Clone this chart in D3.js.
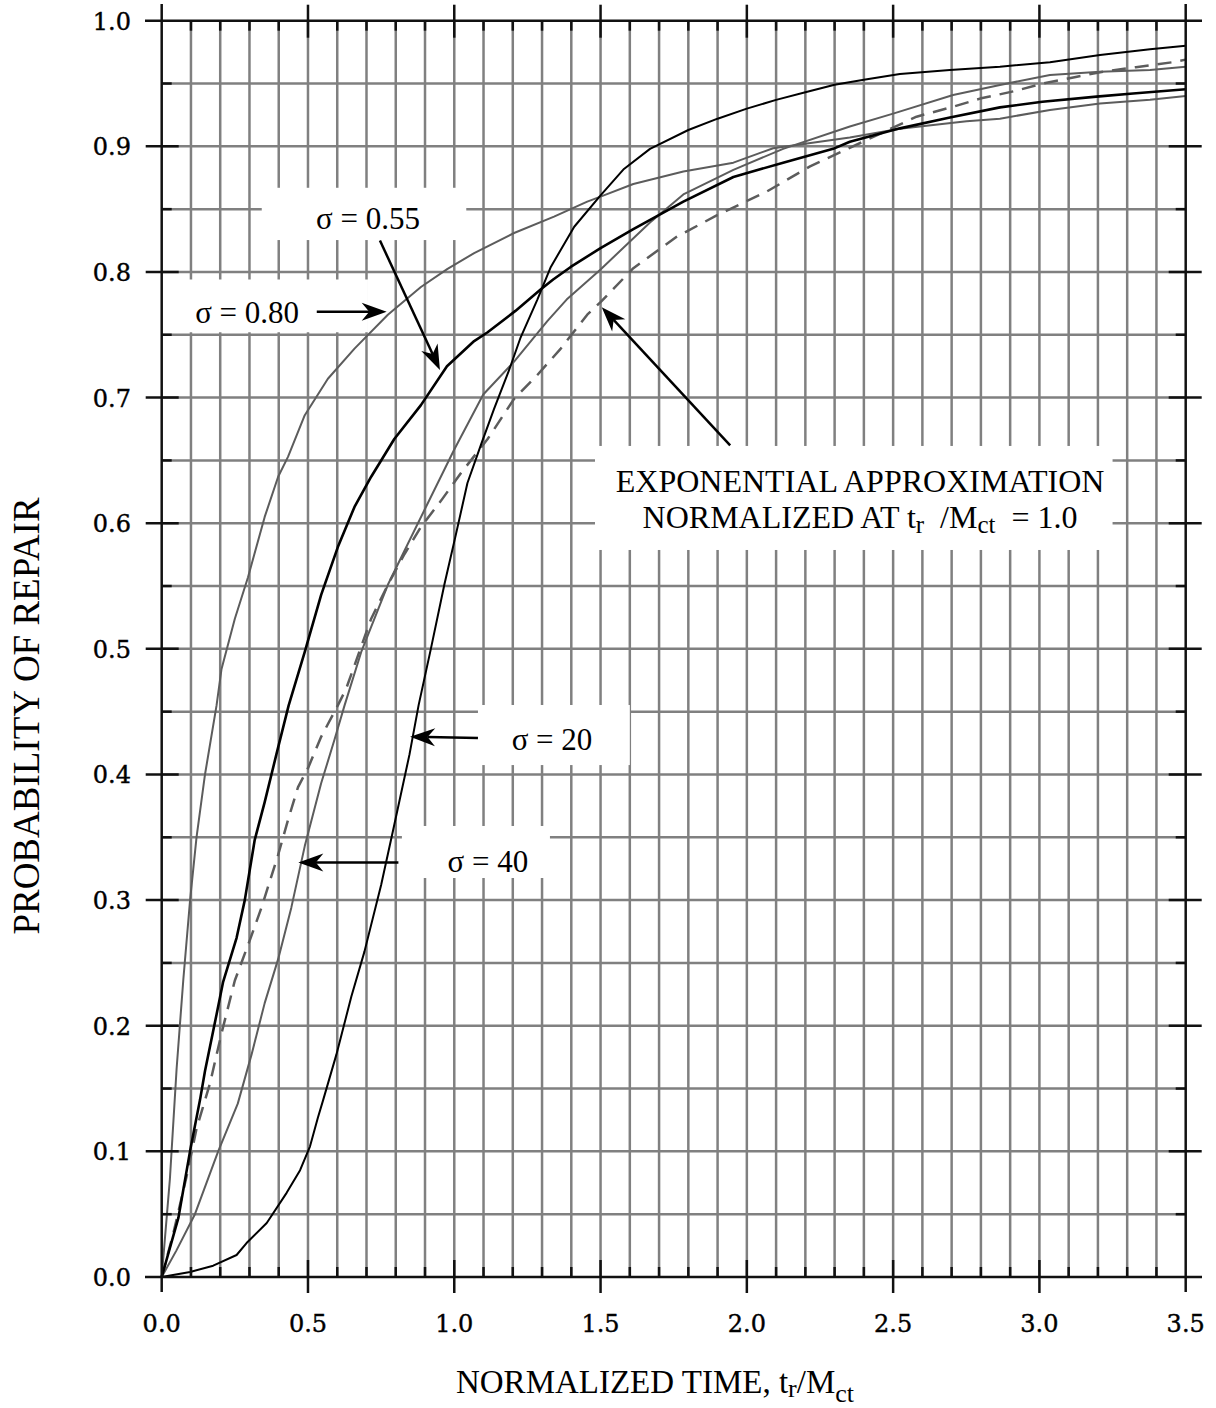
<!DOCTYPE html>
<html>
<head>
<meta charset="utf-8">
<script src="https://cdn.jsdelivr.net/npm/d3@7"></script>
<style>
  body { margin: 0; background: #fff; }
  svg { display: block; }
</style>
</head>
<body>
<svg id="chart" width="1216" height="1408"></svg>
<script>
// curves: [normalized time, probability of repair]
var sigma080 = [[0,0],[0.028,0.078],[0.051,0.166],[0.074,0.237],[0.097,0.30],[0.119,0.35],[0.148,0.40],
    [0.1875,0.455],[0.2045,0.484],[0.25,0.524],[0.295,0.557],[0.352,0.605],[0.398,0.637],[0.432,0.653],
    [0.489,0.686],[0.568,0.715],[0.659,0.739],[0.773,0.766],[0.886,0.788],[0.977,0.8025],[1.068,0.815],
    [1.2045,0.831],[1.341,0.844],[1.4545,0.856],[1.5,0.860],[1.612,0.870],[1.783,0.880],[1.954,0.887],
    [2.09,0.8985],[2.352,0.907],[2.523,0.914],[2.751,0.920],[2.865,0.922],[3.036,0.929],[3.207,0.934],
    [3.378,0.937],[3.5,0.940]];
var sigma055 = [[0,0],[0.057,0.047],[0.099,0.103],[0.131,0.141],[0.148,0.164],[0.1875,0.209],[0.21,0.235],
    [0.256,0.27],[0.284,0.30],[0.318,0.348],[0.352,0.378],[0.392,0.416],[0.434,0.455],[0.489,0.4975],
    [0.545,0.543],[0.602,0.581],[0.659,0.613],[0.716,0.637],[0.795,0.667],[0.886,0.694],[0.975,0.725],
    [1.068,0.745],[1.114,0.752],[1.209,0.769],[1.295,0.786],[1.338,0.794],[1.398,0.804],[1.5,0.819],
    [1.612,0.834],[1.783,0.856],[1.954,0.8756],[2.124,0.887],[2.295,0.898],[2.352,0.9037],[2.523,0.9143],
    [2.694,0.923],[2.865,0.931],[3.01,0.9355],[3.195,0.9396],[3.32,0.942],[3.5,0.9454]];
var sigma040 = [[0,0],[0.05,0.021],[0.1136,0.05],[0.193,0.10],[0.26,0.138],[0.307,0.177],[0.352,0.218],
    [0.398,0.253],[0.443,0.294],[0.489,0.343],[0.545,0.393],[0.591,0.428],[0.625,0.455],[0.682,0.4975],
    [0.773,0.551],[0.841,0.5835],[0.909,0.6157],[1.0,0.6587],[1.099,0.7025],[1.2045,0.7286],[1.318,0.7608],
    [1.384,0.778],[1.5,0.802],[1.669,0.8394],[1.783,0.8617],[1.954,0.8813],[2.124,0.898],[2.352,0.9158],
    [2.5,0.926],[2.705,0.9408],[2.865,0.9488],[3.036,0.9568],[3.207,0.9594],[3.378,0.9607],[3.5,0.9634]];
var sigma020 = [[0,0],[0.097,0.004],[0.176,0.009],[0.256,0.0175],[0.29,0.027],[0.359,0.043],[0.427,0.067],
    [0.473,0.085],[0.507,0.104],[0.534,0.127],[0.552,0.141],[0.597,0.177],[0.648,0.223],[0.693,0.259],
    [0.75,0.312],[0.795,0.36],[0.847,0.416],[0.878,0.455],[0.92,0.50],[0.966,0.551],[1.006,0.5915],
    [1.045,0.632],[1.092,0.663],[1.136,0.691],[1.186,0.721],[1.227,0.748],[1.284,0.778],[1.33,0.804],
    [1.41,0.836],[1.5,0.861],[1.58,0.882],[1.669,0.898],[1.8,0.913],[1.9,0.922],[2.0,0.930],[2.1,0.937],
    [2.2,0.943],[2.3,0.949],[2.4,0.953],[2.523,0.9576],[2.694,0.9607],[2.865,0.9634],[3.036,0.967],
    [3.207,0.9727],[3.378,0.9772],[3.5,0.980]];
var exponential = [[0,0],[0.04,0.035],[0.085,0.08],[0.119,0.118],[0.165,0.154],[0.2045,0.194],[0.25,0.236],
    [0.301,0.268],[0.341,0.294],[0.398,0.336],[0.432,0.364],[0.466,0.39],[0.5,0.405],[0.545,0.43],
    [0.602,0.455],[0.63,0.468],[0.716,0.524],[0.773,0.551],[0.83,0.5755],[0.886,0.597],[0.955,0.618],
    [1.023,0.64],[1.114,0.667],[1.2045,0.699],[1.284,0.718],[1.364,0.739],[1.4545,0.766],[1.5,0.776],
    [1.612,0.803],[1.76,0.828],[1.897,0.845],[2.068,0.864],[2.216,0.884],[2.4,0.904],[2.58,0.9236],
    [2.705,0.9315],[2.797,0.938],[2.916,0.944],[3.013,0.950],[3.12,0.955],[3.217,0.9594],[3.33,0.963],
    [3.457,0.967],[3.5,0.969]];

var xTickLabels = ["0.0","0.5","1.0","1.5","2.0","2.5","3.0","3.5"];
var yTickLabels = ["0.0","0.1","0.2","0.3","0.4","0.5","0.6","0.7","0.8","0.9","1.0"];

var svg = d3.select("#chart");
var x = d3.scaleLinear().domain([0, 3.5]).range([161.7, 1185.7]);
var y = d3.scaleLinear().domain([0, 1]).range([1277, 20.7]);

var GRID = "#808080", CURVE_GRAY = "#5c5c5c";

svg.append("rect").attr("width", 1216).attr("height", 1408).style("fill", "white");

// grid
var grid = svg.append("g");
d3.range(1, 35).forEach(function(i) {
    grid.append("line")
        .attr("x1", x(i / 10)).attr("x2", x(i / 10))
        .attr("y1", y(1)).attr("y2", y(0))
        .style("stroke", GRID).style("stroke-width", 2.5);
});
d3.range(1, 20).forEach(function(i) {
    grid.append("line")
        .attr("x1", x(0)).attr("x2", x(3.5))
        .attr("y1", y(i / 20)).attr("y2", y(i / 20))
        .style("stroke", GRID).style("stroke-width", 2.5);
});

// white boxes behind the labels (data units)
var boxes = [
    [0.342, 1.041, 0.867, 0.8254],
    [0.028, 0.705, 0.794, 0.752],
    [1.481, 3.250, 0.6615, 0.5787],
    [1.081, 1.600, 0.4553, 0.4075],
    [0.821, 1.327, 0.359, 0.3176]
];
boxes.forEach(function(b) {
    svg.append("rect")
        .attr("x", x(b[0])).attr("y", y(b[2]))
        .attr("width", x(b[1]) - x(b[0])).attr("height", y(b[3]) - y(b[2]))
        .style("fill", "white");
});

// curves
var line = d3.line().x(function(d) { return x(d[0]); }).y(function(d) { return y(d[1]); });
function plotCurve(data, color, width, dash) {
    var p = svg.append("path").datum(data)
        .attr("d", line)
        .style("fill", "none")
        .style("stroke", color)
        .style("stroke-width", width)
        .style("stroke-linejoin", "round");
    if (dash) p.style("stroke-dasharray", dash);
}
plotCurve(exponential, CURVE_GRAY, 2.5, "14,9");
plotCurve(sigma080, CURVE_GRAY, 2);
plotCurve(sigma040, CURVE_GRAY, 2);
plotCurve(sigma020, "#000", 2);
plotCurve(sigma055, "#000", 2.6);

// frame and ticks
var axes = svg.append("g").style("stroke", "#111").style("stroke-width", 2.5);
[y(0), y(1)].forEach(function(yy) {
    axes.append("line").attr("x1", 145).attr("x2", 1202).attr("y1", yy).attr("y2", yy);
});
[x(0), x(3.5)].forEach(function(xx) {
    axes.append("line").attr("x1", xx).attr("x2", xx).attr("y1", 4).attr("y2", 1292);
});
d3.range(1, 35).forEach(function(i) {
    var xx = x(i / 10), major = i % 5 == 0;
    axes.append("line").attr("x1", xx).attr("x2", xx)
        .attr("y1", y(0) + (major ? 16 : 0)).attr("y2", y(0) - (major ? 17 : 10));
    axes.append("line").attr("x1", xx).attr("x2", xx)
        .attr("y1", y(1) - (major ? 16 : 0)).attr("y2", y(1) + (major ? 17 : 10));
});
d3.range(1, 20).forEach(function(i) {
    var yy = y(i / 20), major = i % 2 == 0;
    axes.append("line").attr("y1", yy).attr("y2", yy)
        .attr("x1", x(0) - (major ? 16 : 0)).attr("x2", x(0) + (major ? 17 : 10));
    axes.append("line").attr("y1", yy).attr("y2", yy)
        .attr("x1", x(3.5) + (major ? 16 : 0)).attr("x2", x(3.5) - (major ? 17 : 10));
});

// tick labels
xTickLabels.forEach(function(t) {
    svg.append("text").attr("x", x(+t)).attr("y", 1332)
        .attr("text-anchor", "middle")
        .style("font-family", "DejaVu Serif").style("font-size", "24px")
        .style("stroke", "#000").style("stroke-width", 0.4)
        .text(t);
});
yTickLabels.forEach(function(t) {
    svg.append("text").attr("x", 131).attr("y", y(+t) + 9)
        .attr("text-anchor", "end")
        .style("font-family", "DejaVu Serif").style("font-size", "24px")
        .style("stroke", "#000").style("stroke-width", 0.4)
        .text(t);
});

// axis titles
var serif = "Liberation Serif";
var xt = svg.append("text").attr("x", 655).attr("y", 1393).attr("text-anchor", "middle")
    .style("font-family", serif).style("font-size", "33px");
xt.append("tspan").text("NORMALIZED TIME, t");
xt.append("tspan").attr("dy", 4).style("font-size", "26px").text("r");
xt.append("tspan").attr("dy", -4).text("/M");
xt.append("tspan").attr("dy", 9).style("font-size", "26px").text("ct");

svg.append("text")
    .attr("transform", "translate(39,716) rotate(-90)")
    .attr("text-anchor", "middle")
    .style("font-family", serif).style("font-size", "37px")
    .text("PROBABILITY OF REPAIR");

// annotations
function label(tx, ty, str, size) {
    return svg.append("text").attr("x", x(tx)).attr("y", y(ty))
        .attr("text-anchor", "middle")
        .style("font-family", serif).style("font-size", size || "31px")
        .text(str);
}
label(0.705, 0.834, "\u03c3 = 0.55");
label(0.292, 0.759, "\u03c3 = 0.80");
label(1.334, 0.4195, "\u03c3 = 20");
label(1.115, 0.322, "\u03c3 = 40");
label(2.387, 0.6249, "EXPONENTIAL APPROXIMATION", "32px");
var l2 = label(2.387, 0.5962, "", "32px");
l2.append("tspan").text("NORMALIZED AT t");
l2.append("tspan").attr("dy", 5).style("font-size", "25px").text("r");
l2.append("tspan").attr("dy", -5).text("\u2002/M");
l2.append("tspan").attr("dy", 5).style("font-size", "25px").text("ct");
l2.append("tspan").attr("dy", -5).text("\u2002= 1.0");

function arrow(x1, y1, x2, y2) {
    var sx = x(x1), sy = y(y1), ex = x(x2), ey = y(y2);
    var a = Math.atan2(ey - sy, ex - sx), len = 25, hw = 9;
    var bx = ex - len * Math.cos(a), by = ey - len * Math.sin(a);
    var nx = -Math.sin(a), ny = Math.cos(a);
    var mx = ex - 0.7 * len * Math.cos(a), my = ey - 0.7 * len * Math.sin(a);
    svg.append("line").attr("x1", sx).attr("y1", sy).attr("x2", mx).attr("y2", my)
        .style("stroke", "#000").style("stroke-width", 2.5);
    svg.append("path")
        .attr("d", "M" + ex + "," + ey +
            "L" + (bx + nx * hw) + "," + (by + ny * hw) +
            "L" + mx + "," + my +
            "L" + (bx - nx * hw) + "," + (by - ny * hw) + "Z")
        .style("fill", "#000");
}
arrow(0.53, 0.7684, 0.769, 0.7684);
arrow(0.746, 0.825, 0.951, 0.722);
arrow(1.943, 0.662, 1.504, 0.772);
arrow(1.081, 0.429, 0.849, 0.43);
arrow(0.809, 0.33, 0.467, 0.33);
</script>
</body>
</html>
